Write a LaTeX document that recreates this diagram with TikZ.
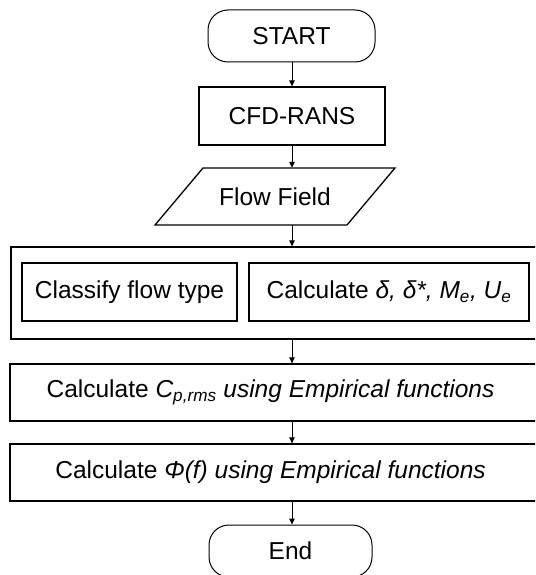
\documentclass[tikz,border=0pt]{standalone}
\usepackage{fontspec}
\setmainfont{Liberation Sans}
\usetikzlibrary{arrows.meta}
\begin{document}
\begin{tikzpicture}[x=1pt,y=-1pt,
  font=\fontsize{24.5}{28}\selectfont,
  box/.style={draw, line width=1.3pt, inner sep=0pt},
  thickbox/.style={draw, line width=2.4pt, inner sep=0pt},
  term/.style={draw, line width=1pt, rounded corners=20pt, inner sep=0pt},
  arr/.style={line width=1pt, -{Triangle[length=6pt,width=5.5pt]}}]
\useasboundingbox (0,0) rectangle (535,575);
\clip (0,0) rectangle (535,575);
\fill[white] (0,0) rectangle (535,575);
% terminals and boxes
\node[term, minimum width=167pt, minimum height=52pt] (start) at (291.5,36) {START};
\node[box, minimum width=186pt, minimum height=58pt] (cfd) at (292,116) {CFD-RANS};
\draw[line width=1.3pt] (203,168) -- (395,168) -- (347,225) -- (155,225) -- cycle;
\node[minimum width=150pt, minimum height=57pt, inner sep=0pt] (flow) at (275,196.5) {Flow Field};
\node[box, minimum width=534pt, minimum height=92pt] (outer) at (278,293) {};
\node[thickbox, minimum width=215pt, minimum height=58pt] (classify) at (129.5,292) {Classify flow type};
\node[box, minimum width=280pt, minimum height=58pt] (calc) at (389,292)
  {Calculate \textit{δ, δ*, M\textsubscript{e}, U\textsubscript{e}}};
\node[box, minimum width=535pt, minimum height=57pt] (cp) at (277.5,392.5)
  {\hspace*{-14pt}Calculate \textit{C\textsubscript{p,rms} using Empirical functions}};
\node[box, minimum width=535pt, minimum height=57pt] (phi) at (277.5,472.5)
  {\hspace*{-14pt}Calculate \textit{Φ(f) using Empirical functions}};
\node[term, minimum width=163pt, minimum height=52pt] (end) at (290.5,551) {End};
% connectors
\draw[arr] (start.south -| cfd.south) -- (cfd.north);
\draw[arr] (cfd.south) -- (cfd.south |- flow.north);
\draw[arr] (cfd.south |- flow.south) -- (cfd.south |- outer.north);
\draw[arr] (cfd.south |- outer.south) -- (cfd.south |- cp.north);
\draw[arr] (cfd.south |- cp.south) -- (cfd.south |- phi.north);
\draw[arr] (cfd.south |- phi.south) -- (cfd.south |- end.north);
\end{tikzpicture}
\end{document}
